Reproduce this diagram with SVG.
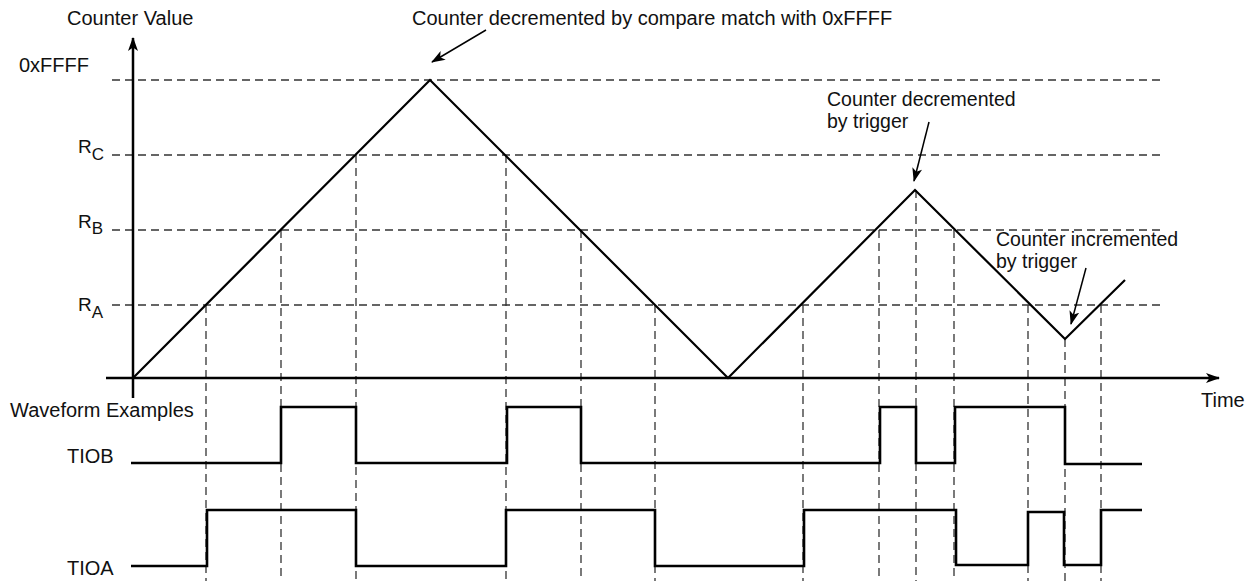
<svg xmlns="http://www.w3.org/2000/svg" width="1257" height="581" viewBox="0 0 1257 581">
<style>
  text { font-family: "Liberation Sans", Arial, Helvetica, sans-serif; font-size: 20px; fill: #111; }
  .sub { font-size: 17px; }
  .lbl { font-size: 19px; }
  .note { font-size: 19.5px; }
  .axis { stroke: #000; stroke-width: 2.5; fill: none; }
  .grid { stroke: #333; stroke-width: 1.3; stroke-dasharray: 8 5; fill: none; }
  .tri { stroke: #000; stroke-width: 2.2; fill: none; stroke-linejoin: miter; }
  .wave { stroke: #000; stroke-width: 2.6; fill: none; stroke-linejoin: miter; }
  .ann { stroke: #000; stroke-width: 1.5; fill: none; }
</style>
<defs>
  <marker id="ah" viewBox="0 0 14 10" refX="13" refY="5" markerWidth="14" markerHeight="10" orient="auto" markerUnits="userSpaceOnUse">
    <path d="M0,0 L14,5 L0,10 L3.5,5 z" fill="#000"/>
  </marker>
  <marker id="ahAxis" viewBox="0 0 14 10" refX="13" refY="5" markerWidth="15" markerHeight="10" orient="auto" markerUnits="userSpaceOnUse">
    <path d="M0,0 L14,5 L0,10 L3.5,5 z" fill="#000"/>
  </marker>
</defs>
<rect width="1257" height="581" fill="#fff"/>

<g id="grid-horizontal">
  <line class="grid" x1="112" y1="80" x2="1165" y2="80"/>
  <line class="grid" x1="112" y1="155" x2="1165" y2="155"/>
  <line class="grid" x1="112" y1="230" x2="1165" y2="230"/>
  <line class="grid" x1="112" y1="305" x2="1165" y2="305"/>
</g>

<g id="grid-vertical">
  <line class="grid" x1="206" y1="305" x2="206" y2="581"/>
  <line class="grid" x1="281" y1="230" x2="281" y2="581"/>
  <line class="grid" x1="356" y1="155" x2="356" y2="581"/>
  <line class="grid" x1="506" y1="155" x2="506" y2="581"/>
  <line class="grid" x1="581" y1="230" x2="581" y2="581"/>
  <line class="grid" x1="655" y1="305" x2="655" y2="581"/>
  <line class="grid" x1="803" y1="305" x2="803" y2="581"/>
  <line class="grid" x1="879" y1="230" x2="879" y2="581"/>
  <line class="grid" x1="916" y1="190" x2="916" y2="581"/>
  <line class="grid" x1="954" y1="230" x2="954" y2="581"/>
  <line class="grid" x1="1028" y1="305" x2="1028" y2="581"/>
  <line class="grid" x1="1065" y1="339" x2="1065" y2="581"/>
  <line class="grid" x1="1101" y1="305" x2="1101" y2="581"/>
</g>

<g id="axes">
  <line class="axis" x1="133" y1="398" x2="133" y2="38" marker-end="url(#ahAxis)"/>
  <line class="axis" x1="106" y1="378" x2="1219" y2="378" marker-end="url(#ahAxis)"/>
</g>

<g id="counter-curve">
  <polyline class="tri" points="133,378 430,80 728,378 915,190 1065,339 1125,280"/>
</g>

<g id="tiob-wave">
  <polyline class="wave" points="131,463 281,463 281,407 356,407 356,463 507,463 507,407 581,407 581,463 880,463 880,407 916,407 916,463 955,463 955,407 1065,407 1065,464 1142,464"/>
</g>

<g id="tioa-wave">
  <polyline class="wave" points="131,566 207,566 207,510 356,510 356,566 506,566 506,510 655,510 655,566 804,566 804,510 956,510 956,565 1028,565 1028,512 1064,512 1064,565 1101,565 1101,510 1142,510"/>
</g>

<g id="connectors">
  <line class="ann" x1="486" y1="30" x2="432" y2="62" marker-end="url(#ah)"/>
  <line class="ann" x1="929" y1="122" x2="914" y2="181" marker-end="url(#ah)"/>
  <line class="ann" x1="1086" y1="268" x2="1071" y2="324" marker-end="url(#ah)"/>
</g>

<g id="labels">
  <text x="67" y="25">Counter Value</text>
  <text x="412" y="25">Counter decremented by compare match with 0xFFFF</text>
  <text x="19" y="72">0xFFFF</text>
  <text x="78" y="153" class="lbl">R<tspan class="sub" dy="7">C</tspan></text>
  <text x="78" y="228" class="lbl">R<tspan class="sub" dy="6">B</tspan></text>
  <text x="78" y="311" class="lbl">R<tspan class="sub" dy="7">A</tspan></text>
  <text x="827" y="106" class="note">Counter decremented</text>
  <text x="827" y="128" class="note">by trigger</text>
  <text x="996" y="246" class="note">Counter incremented</text>
  <text x="996" y="268" class="note">by trigger</text>
  <text x="1201" y="407">Time</text>
  <text x="10" y="417">Waveform Examples</text>
  <text x="67" y="463">TIOB</text>
  <text x="67" y="575">TIOA</text>
</g>
</svg>
